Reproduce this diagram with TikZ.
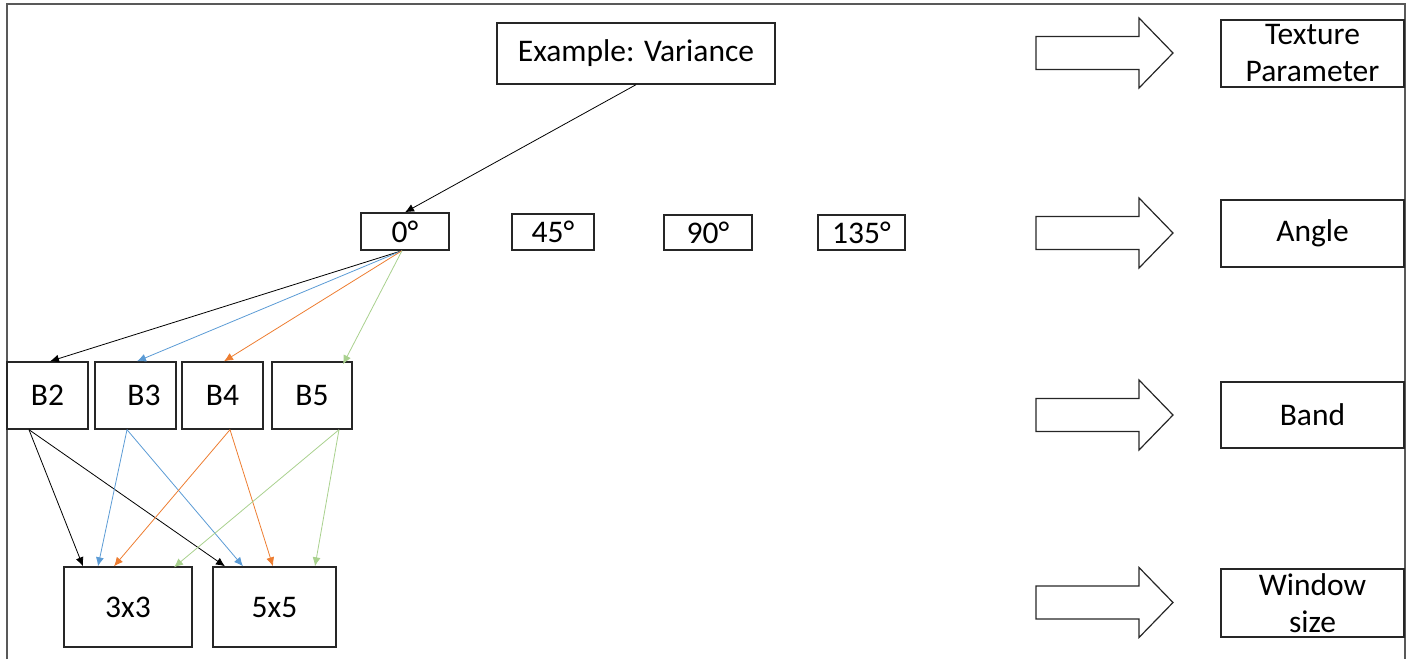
\documentclass[tikz,border=0pt]{standalone}
\usepackage{fontspec}
\setmainfont{Carlito}
\usetikzlibrary{arrows.meta}
\begin{document}
\begin{tikzpicture}[x=1pt,y=-1pt,
  box/.style={draw=black!85,line width=1.4pt,inner sep=0pt,font=\fontsize{31.5}{37}\selectfont,align=center},
  blk/.style={draw=black,line width=0.8pt,-{Latex[length=9pt,width=8pt]}},
  blu/.style={draw=blu,line width=0.8pt,-{Latex[length=9pt,width=8pt]}},
  org/.style={draw=org,line width=0.8pt,-{Latex[length=9pt,width=8pt]}},
  grn/.style={draw=grn,line width=0.8pt,-{Latex[length=9pt,width=8pt]}},
  bigarrow/.pic={\draw[line width=1.2pt,black!85,line join=miter]
     (0,-16.5) -- (103,-16.5) -- (103,-35) -- (137,0) -- (103,35) -- (103,16.5) -- (0,16.5) -- cycle;}
]
\definecolor{blu}{HTML}{5B9BD5}
\definecolor{org}{HTML}{ED7D31}
\definecolor{grn}{HTML}{A9D18E}
\useasboundingbox (0,0) rectangle (1413,659);
\draw[line width=2pt,black!65] (7,659) -- (7,4) -- (1405,4) -- (1405,659);

\node[box,minimum width=278pt,minimum height=61pt] (ex) at (636,53.5) {Example: Variance};
\node[box,minimum width=88pt,minimum height=37pt] (a0) at (405,231.5) {0°};
\node[box,minimum width=82pt,minimum height=36pt] (a45) at (553,232) {45°};
\node[box,minimum width=88pt,minimum height=35pt] (a90) at (708,232.5) {90°};
\node[box,minimum width=87pt,minimum height=35pt] (a135) at (861.5,232.5) {135°};

\node[box,minimum width=81pt,minimum height=67pt] (b2) at (47.5,395.5) {B2};
\node[box,minimum width=81pt,minimum height=67pt] (b3) at (135.5,395.5) {\hspace*{17pt}B3};
\node[box,minimum width=81pt,minimum height=67pt] (b4) at (222.5,395.5) {B4};
\node[box,minimum width=80pt,minimum height=67pt] (b5) at (312,395.5) {B5};

\node[box,minimum width=128pt,minimum height=80pt] (w3) at (128,607) {3x3};
\node[box,minimum width=123pt,minimum height=80pt] (w5) at (274.5,607) {5x5};

\node[box,minimum width=183pt,minimum height=67pt] (tp) at (1312.5,53.5) {Texture\\Parameter};
\node[box,minimum width=183pt,minimum height=67pt] (ang) at (1312.5,233.5) {Angle};
\node[box,minimum width=183pt,minimum height=66pt] (band) at (1312.5,415) {Band};
\node[box,minimum width=183pt,minimum height=68pt] (win) at (1312.5,603) {Window\\size};

\pic at (1036,53) {bigarrow};
\pic at (1036,233) {bigarrow};
\pic at (1036,415) {bigarrow};
\pic at (1036,602.5) {bigarrow};

\draw[blk] (ex.south) -- (a0.north);

\draw[blk] ([xshift=-3pt]a0.south) -- ([xshift=2.5pt]b2.north);
\draw[blu] ([xshift=-3pt]a0.south) -- ([xshift=1.5pt]b3.north);
\draw[org] ([xshift=-3pt]a0.south) -- ([xshift=1.5pt]b4.north);
\draw[grn] ([xshift=-3pt]a0.south) -- ([xshift=31pt,yshift=-3pt]b5.north);

\draw[blk] ([xshift=-18.5pt]b2.south) -- ([xshift=-45pt]w3.north);
\draw[blk] ([xshift=-18.5pt]b2.south) -- ([xshift=-49.5pt]w5.north);
\draw[blu] ([xshift=-8.5pt]b3.south) -- ([xshift=-30pt]w3.north);
\draw[blu] ([xshift=-8.5pt]b3.south) -- ([xshift=-31.5pt]w5.north);
\draw[org] ([xshift=7.5pt]b4.south) -- ([xshift=-14pt]w3.north);
\draw[org] ([xshift=7.5pt]b4.south) -- ([xshift=-1.5pt]w5.north);
\draw[grn] ([xshift=27pt]b5.south) -- ([xshift=46pt,yshift=-1pt]w3.north);
\draw[grn] ([xshift=27pt]b5.south) -- ([xshift=40.5pt]w5.north);
\end{tikzpicture}
\end{document}
